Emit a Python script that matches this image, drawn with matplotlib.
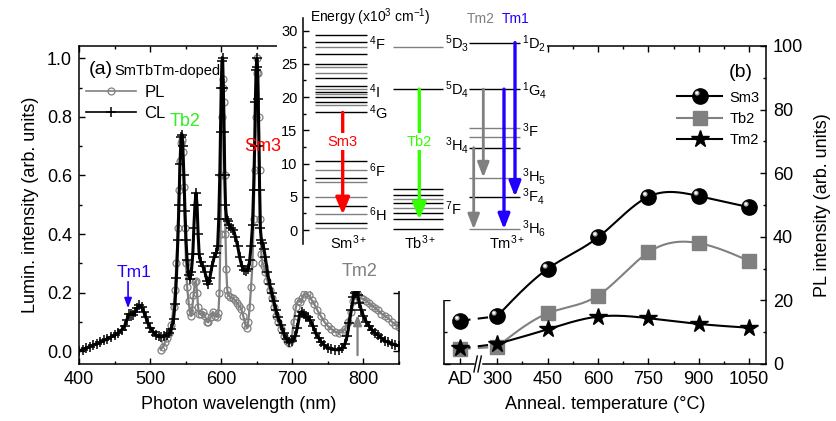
import numpy as np
import matplotlib
matplotlib.use('Agg')
import matplotlib.pyplot as plt
from matplotlib.patches import Rectangle
from matplotlib.path import Path
from matplotlib.ticker import MultipleLocator, FixedLocator

plt.rcParams.update({
    "font.family": "sans-serif",
    "font.sans-serif": ["Liberation Sans"],
    "mathtext.fontset": "custom",
    "mathtext.rm": "Liberation Sans",
    "mathtext.it": "Liberation Sans:italic",
    "mathtext.bf": "Liberation Sans:bold",
})

# ---------------- (a) spectra ----------------
cl_wl = [400, 405, 410, 415, 420, 425, 430, 435, 440, 445, 450, 455, 460, 464, 467, 470, 473, 476, 479,
         482, 485, 488, 491, 494, 497, 500, 504, 508, 512, 516, 520, 524, 527, 530, 533, 535, 537, 539,
         540.5, 542, 543.5, 545, 546, 547.5, 549, 550.5, 552, 554, 556, 558, 560, 561.5, 563, 564.5, 566,
         567.5, 569, 571, 574, 577, 580, 582, 584, 587, 590, 593, 595, 596.5, 598, 599, 600, 601, 602, 603,
         604, 605, 606, 607.5, 609, 611, 614, 617, 620, 623, 626, 629, 632, 635, 638, 640, 642, 644, 645.5,
         647, 648, 649, 650, 651, 652, 653, 654, 655, 656.5, 658, 660, 662, 665, 668, 671, 674, 677, 680,
         684, 688, 692, 696, 700, 704, 707, 710, 713, 716, 719, 722, 725, 729, 733, 737, 741, 745, 750,
         755, 760, 765, 770, 774, 777, 780, 783, 786, 788, 790, 792, 794, 797, 800, 804, 808, 812, 816,
         820, 825, 830, 835, 840, 845, 850]
cl_int = [0.0, 0.005, 0.01, 0.015, 0.02, 0.025, 0.03, 0.036, 0.042, 0.048, 0.054, 0.062, 0.072, 0.085,
          0.105, 0.125, 0.128, 0.124, 0.133, 0.148, 0.157, 0.15, 0.135, 0.115, 0.095, 0.08, 0.066, 0.056,
          0.05, 0.048, 0.052, 0.056, 0.06, 0.075, 0.11, 0.16, 0.25, 0.38, 0.5, 0.64, 0.73, 0.74, 0.7, 0.6,
          0.48, 0.38, 0.31, 0.26, 0.245, 0.27, 0.33, 0.42, 0.5, 0.54, 0.5, 0.4, 0.33, 0.305, 0.29, 0.27,
          0.24, 0.23, 0.25, 0.29, 0.32, 0.335, 0.36, 0.45, 0.6, 0.75, 0.9, 0.99, 1.0, 0.9, 0.75, 0.6, 0.5,
          0.45, 0.445, 0.43, 0.42, 0.415, 0.39, 0.36, 0.32, 0.29, 0.278, 0.275, 0.28, 0.31, 0.36, 0.43,
          0.55, 0.7, 0.85, 0.96, 1.0, 0.97, 0.86, 0.7, 0.55, 0.42, 0.38, 0.37, 0.35, 0.32, 0.27, 0.23,
          0.2, 0.17, 0.14, 0.115, 0.09, 0.06, 0.04, 0.03, 0.035, 0.05, 0.08, 0.12, 0.135, 0.125, 0.115,
          0.117, 0.105, 0.085, 0.06, 0.045, 0.03, 0.02, 0.012, 0.008, 0.005, 0.004, 0.01, 0.025, 0.05,
          0.095, 0.14, 0.185, 0.2, 0.205, 0.19, 0.165, 0.14, 0.12, 0.1, 0.085, 0.072, 0.062, 0.055, 0.045,
          0.035, 0.03, 0.025, 0.02, 0.018]

pl_wl = [515, 518, 521, 524, 527, 530, 533, 535, 537, 539, 540.5, 542, 543.5, 545, 546, 547.5, 549,
         550.5, 552, 554, 556, 557.5, 559, 561, 563, 564.5, 566, 567.5, 569, 571, 574, 577, 580, 582, 585,
         588, 591, 594, 596, 597.5, 599, 600, 601, 602, 603, 604, 605, 606, 607, 608.5, 610, 613, 616, 619,
         622, 625, 628, 631, 634, 636, 638, 640, 642, 644, 645.5, 647, 648.5, 650, 651, 652, 653, 654, 655,
         656.5, 658, 660, 662, 665, 668, 671, 674, 677, 680, 684, 688, 692, 696, 699, 702, 705, 708, 711,
         714, 717, 720, 723, 727, 731, 735, 740, 745, 750, 755, 760, 765, 770, 774, 778, 782, 785, 788,
         790, 793, 796, 800, 804, 808, 812, 816, 820, 825, 830, 835, 840, 845, 850]
pl_int = [0.005, 0.015, 0.03, 0.045, 0.06, 0.09, 0.15, 0.21, 0.3, 0.42, 0.55, 0.65, 0.71, 0.72, 0.68,
          0.56, 0.42, 0.3, 0.22, 0.17, 0.135, 0.12, 0.14, 0.19, 0.235, 0.24, 0.2, 0.15, 0.127, 0.125, 0.133,
          0.12, 0.1, 0.098, 0.115, 0.134, 0.12, 0.117, 0.13, 0.2, 0.4, 0.6, 0.8, 0.9, 0.93, 0.85, 0.6, 0.4,
          0.28, 0.21, 0.19, 0.185, 0.18, 0.175, 0.165, 0.155, 0.145, 0.12, 0.09, 0.08, 0.1, 0.15, 0.22, 0.3,
          0.45, 0.62, 0.8, 0.95, 1.0, 0.95, 0.8, 0.62, 0.45, 0.33, 0.3, 0.29, 0.27, 0.24, 0.21, 0.18, 0.15,
          0.12, 0.1, 0.075, 0.05, 0.035, 0.027, 0.04, 0.1, 0.15, 0.172, 0.168, 0.18, 0.195, 0.198, 0.19,
          0.175, 0.16, 0.14, 0.12, 0.1, 0.085, 0.075, 0.066, 0.062, 0.065, 0.075, 0.1, 0.135, 0.17, 0.192,
          0.197, 0.19, 0.18, 0.178, 0.172, 0.163, 0.155, 0.148, 0.14, 0.128, 0.12, 0.112, 0.1, 0.09, 0.083]

# ---------------- (b) PL vs annealing ----------------
anneal_labels = ['AD', '300', '450', '600', '750', '900', '1050']
anneal_x = [190, 300, 450, 600, 750, 900, 1050]
sm3_pl = [13.6, 15.0, 29.9, 39.8, 52.6, 52.8, 49.3]
tb2_pl = [4.7, 5.4, 15.9, 21.5, 35.1, 38.0, 32.4]
tm2_pl = [4.9, 6.3, 10.9, 14.9, 14.4, 12.6, 11.4]

# ---------------- energy levels (x10^3 cm^-1) ----------------
sm_levels = [29.3, 28.3, 27.6, 26.5, 25.0, 24.5, 23.7, 22.8, 21.6, 21.2, 20.8, 20.4, 20.0,
             19.2, 18.8, 17.7, 10.45, 9.0, 7.9, 7.2, 4.9, 3.6, 2.35, 1.0, 0.3]
sm_gray = [27.6, 24.5, 23.7, 21.2, 20.4, 18.8, 9.0, 7.2, 4.9, 2.35, 0.3]
tb_levels = [27.5, 21.2, 6.1, 5.2, 4.6, 4.0, 3.3, 2.6, 1.6, 0.1]
tb_gray = [27.5, 4.6, 3.3]
tm_levels = [28.2, 21.2, 15.4, 14.0, 12.4, 7.9, 5.0, 0.1]
tm_gray = [15.4, 14.0, 7.9, 0.1]


def natural_spline(x, y, xs):
    x = np.asarray(x, float); y = np.asarray(y, float)
    n = len(x)
    h = np.diff(x)
    A = np.zeros((n, n)); r = np.zeros(n)
    A[0, 0] = A[-1, -1] = 1
    for i in range(1, n - 1):
        A[i, i - 1] = h[i - 1]; A[i, i] = 2 * (h[i - 1] + h[i]); A[i, i + 1] = h[i]
        r[i] = 3 * ((y[i + 1] - y[i]) / h[i] - (y[i] - y[i - 1]) / h[i - 1])
    c = np.linalg.solve(A, r)
    b = (y[1:] - y[:-1]) / h - h * (2 * c[:-1] + c[1:]) / 3
    d = (c[1:] - c[:-1]) / (3 * h)
    idx = np.clip(np.searchsorted(x, xs) - 1, 0, n - 2)
    t = xs - x[idx]
    return y[idx] + b[idx] * t + c[idx] * t ** 2 + d[idx] * t ** 3


def spot(center, radius):
    # small circle marker; two invisible corner points keep the marker scale fixed
    p = Path.circle(center, radius)
    return Path(np.vstack([p.vertices, [[0.5, 0.5], [-0.5, -0.5]]]),
                np.concatenate([p.codes, [Path.MOVETO, Path.MOVETO]]))


GRAY = '#808080'
fig = plt.figure(figsize=(8.36, 4.21), dpi=100)
W, H = 836., 421.

############################## panel (a) ##############################
ax_a = fig.add_axes([79 / W, 57 / H, 320 / W, 318 / H])
ax_a.plot(pl_wl, pl_int, color=GRAY, lw=1.6, marker='o', ms=5, mfc='none', mec=GRAY, mew=0.9, zorder=2,
          label='PL')
ax_a.plot(cl_wl, cl_int, color='k', lw=2.2, marker='+', ms=6.5, mew=1.1, zorder=3, label='CL')
ax_a.set_xlim(400, 850)
ax_a.set_ylim(-0.0444, 1.0427)
ax_a.xaxis.set_major_locator(MultipleLocator(100))
ax_a.xaxis.set_minor_locator(MultipleLocator(50))
ax_a.yaxis.set_major_locator(MultipleLocator(0.2))
ax_a.yaxis.set_minor_locator(MultipleLocator(0.1))
ax_a.yaxis.set_major_formatter('{x:.1f}')
ax_a.set_xlabel('Photon wavelength (nm)', fontsize=13, labelpad=6)
ax_a.set_ylabel('Lumin. intensity (arb. units)', fontsize=13, labelpad=6)
leg_a = ax_a.legend(loc='upper left', bbox_to_anchor=(0.022, 0.877), frameon=False, fontsize=12,
                    handlelength=3.0, handletextpad=0.5, borderpad=0, borderaxespad=0, labelspacing=0.35)
for h in leg_a.legend_handles:
    h.set_linewidth(1.2)
ax_a.text(0.03, 0.925, '(a)', transform=ax_a.transAxes, fontsize=14, va='center')
ax_a.text(0.112, 0.92, 'SmTbTm-doped', transform=ax_a.transAxes, fontsize=10.5, va='center')
fig.text(548.7, 0.783, 'Tb2', transform=ax_a.transData, color='#33ee22', fontsize=13,
         ha='center', va='center', zorder=5)
fig.text(659, 0.698, 'Sm3', transform=ax_a.transData, color='#ff0000', fontsize=13,
         ha='center', va='center', zorder=5)
fig.text(794, 0.271, 'Tm2', transform=ax_a.transData, color=GRAY, fontsize=13,
         ha='center', va='center', zorder=5)
ax_a.text(478, 0.267, 'Tm1', color='#2200ff', fontsize=12.5, ha='center', va='center')
ax_a.annotate('', xy=(469, 0.146), xytext=(469, 0.237),
              arrowprops=dict(arrowstyle='-|>,head_length=6,head_width=2.2', color='#2200ff', lw=1.2,
                              shrinkA=0, shrinkB=0, mutation_scale=1))
ax_a.annotate('', xy=(791.7, 0.123), xytext=(791.7, -0.014),
              arrowprops=dict(arrowstyle='-|>,head_length=6,head_width=2.5', color=GRAY, lw=1.6,
                              shrinkA=0, shrinkB=0, mutation_scale=1))

############################## panel (b) ##############################
ax_b = fig.add_axes([444 / W, 57 / H, 322 / W, 318 / H])
xs = np.linspace(300, 1050, 300)
series = [(sm3_pl, 'k'), (tb2_pl, GRAY), (tm2_pl, 'k')]
curves = []
for vals, col in series:
    ln, = ax_b.plot(xs, natural_spline(anneal_x[1:], vals[1:], xs), color=col, lw=1.5, zorder=2)
    ax_b.plot(anneal_x[:2], vals[:2], color=col, lw=1.5, ls=(0, (5, 3.5)), zorder=2)
    curves.append(ln)

sph, = ax_b.plot(anneal_x, sm3_pl, ls='none', marker='o', ms=11, mfc='k', mec='k', zorder=3)
sph_hl, = ax_b.plot(anneal_x, sm3_pl, ls='none', marker=spot((-0.22, 0.22), 0.16),
                    ms=11, mfc='#b0b0b0', mec='none', zorder=4)
sph_hl2, = ax_b.plot(anneal_x, sm3_pl, ls='none', marker=spot((-0.24, 0.24), 0.08),
                     ms=11, mfc='white', mec='none', zorder=5)
sq, = ax_b.plot(anneal_x, tb2_pl, ls='none', marker='s', ms=9.5, mfc=GRAY, mec=GRAY, zorder=3)
st, = ax_b.plot(anneal_x, tm2_pl, ls='none', marker='*', ms=13, mfc='k', mec='k', zorder=4)

ax_b.set_xlim(142, 1100)
ax_b.set_ylim(0, 100)
ax_b.set_xticks(anneal_x)
ax_b.set_xticklabels(anneal_labels)
ax_b.xaxis.set_minor_locator(FixedLocator([375, 525, 675, 825, 975]))
ax_b.yaxis.set_major_locator(MultipleLocator(20))
ax_b.yaxis.set_minor_locator(MultipleLocator(10))
ax_b.yaxis.tick_right()
ax_b.yaxis.set_label_position('right')
ax_b.set_xlabel('Anneal. temperature (\u00b0C)', fontsize=13, labelpad=6)
ax_b.set_ylabel('PL intensity (arb. units)', fontsize=13, labelpad=8)
ax_b.legend([(curves[0], sph, sph_hl, sph_hl2), (curves[1], sq), (curves[2], st)],
            ['Sm3', 'Tb2', 'Tm2'], loc='upper left', bbox_to_anchor=(0.724, 0.86), frameon=False,
            fontsize=10.5, handlelength=3.1, handletextpad=0.5, borderpad=0, borderaxespad=0,
            labelspacing=0.5)
ax_b.text(0.922, 0.918, '(b)', transform=ax_b.transAxes, fontsize=14, ha='center', va='center')

# axis break between AD and 300
brk = ax_b.get_xaxis_transform()
ax_b.plot([238, 250], [0, 0], transform=brk, color='white', lw=2.5, clip_on=False, zorder=6)
for x0 in (236, 248):
    ax_b.plot([x0 - 5, x0 + 5], [-0.025, 0.025], transform=brk, color='k', lw=1.0, clip_on=False, zorder=7)

for ax in (ax_a, ax_b):
    ax.tick_params(which='both', direction='in', top=True, right=True, left=True, labelsize=13)
    ax.tick_params(which='major', length=4.5, width=1.0, pad=5)
    ax.tick_params(which='minor', length=2.5, width=1.0)
    for s in ax.spines.values():
        s.set_linewidth(1.1)
ax_b.tick_params(labelleft=False, labelright=True)

############################## white inset area ##############################
for x0, x1, y1 in [(277, 440, 291), (440, 503, 300), (503, 547, 255)]:
    fig.add_artist(Rectangle((x0 / W, (H - y1) / H), (x1 - x0) / W, y1 / H, transform=fig.transFigure,
                             facecolor='white', edgecolor='none', zorder=1))

ax_in = fig.add_axes([303 / W, (H - 244) / H, 244 / W, 226 / H])
ax_in.set_zorder(2)
ax_in.patch.set_visible(False)
ax_in.set_xlim(0, 244)
ax_in.set_ylim(-2.1, 31.9)
for side in ('top', 'right', 'bottom'):
    ax_in.spines[side].set_visible(False)
ax_in.spines['left'].set_linewidth(1.1)
ax_in.xaxis.set_visible(False)
ax_in.yaxis.set_major_locator(MultipleLocator(5))
ax_in.yaxis.set_minor_locator(MultipleLocator(2.5))
ax_in.tick_params(which='both', direction='in', labelsize=10.5, width=1.0)
ax_in.tick_params(which='major', length=4, pad=4)
ax_in.tick_params(which='minor', length=2.5)
ax_in.text(7, 32.0, 'Energy (x10$^3$ cm$^{-1}$)', fontsize=10, va='center', clip_on=False)

for E in sm_levels:
    ax_in.hlines(E, 12, 64, colors=GRAY if E in sm_gray else 'k', lw=1.0)
for E in tb_levels:
    ax_in.hlines(E, 90, 140, colors=GRAY if E in tb_gray else 'k', lw=1.0)
for E in tm_levels:
    ax_in.hlines(E, 166, 217, colors=GRAY if E in tm_gray else 'k', lw=1.0)


def down_arrow(x, e_top, e_bot, color, lw, hlen, hwid):
    ax_in.annotate('', xy=(x, e_bot), xytext=(x, e_top),
                   arrowprops=dict(arrowstyle=f'-|>,head_length={hlen},head_width={hwid}', color=color,
                                   lw=lw, shrinkA=0, shrinkB=0, mutation_scale=1))


down_arrow(39.7, 17.7, 2.35, '#ff0000', 2.4, 10, 4.2)
down_arrow(116.3, 21.2, 1.6, '#33ff00', 2.4, 10, 4.2)
down_arrow(180.3, 21.2, 7.9, GRAY, 2.0, 9, 3.5)
down_arrow(170.7, 12.4, 0.1, GRAY, 2.0, 9, 3.5)
down_arrow(201, 21.2, 0.1, '#2200ff', 2.4, 9, 3.5)
down_arrow(212, 28.2, 5.0, '#2200ff', 2.4, 9, 3.5)

box = dict(facecolor='white', edgecolor='none', pad=1)
ax_in.text(39.7, 13.3, 'Sm3', color='#ff0000', fontsize=10.5, ha='center', va='center', bbox=box)
ax_in.text(116.3, 13.3, 'Tb2', color='#33ff00', fontsize=10.5, ha='center', va='center', bbox=box)
ax_in.text(178, 31.7, 'Tm2', color=GRAY, fontsize=10, ha='center', va='center')
ax_in.text(213, 31.7, 'Tm1', color='#2200ff', fontsize=10, ha='center', va='center')

level_labels = [(66, 28.0, '$^4$F'), (66, 20.8, '$^4$I'), (66, 17.6, '$^4$G'), (66, 9.0, '$^6$F'),
                (66, 2.3, '$^6$H'), (142, 28.0, '$^5$D$_3$'), (142, 21.2, '$^5$D$_4$'),
                (142, 12.7, '$^3$H$_4$'), (142, 3.2, '$^7$F'), (219, 28.0, '$^1$D$_2$'),
                (219, 21.0, '$^1$G$_4$'), (219, 15.0, '$^3$F'), (219, 8.0, '$^3$H$_5$'),
                (219, 5.0, '$^3$F$_4$'), (219, 0.2, '$^3$H$_6$')]
for x, E, s in level_labels:
    ax_in.text(x, E, s, fontsize=10.5, ha='left', va='center', clip_on=False)
for x, s in [(45, 'Sm$^{3+}$'), (117, 'Tb$^{3+}$'), (204, 'Tm$^{3+}$')]:
    ax_in.text(x, -1.9, s, fontsize=10.5, ha='center', va='center', clip_on=False)

fig.savefig('out.png', dpi=100)
